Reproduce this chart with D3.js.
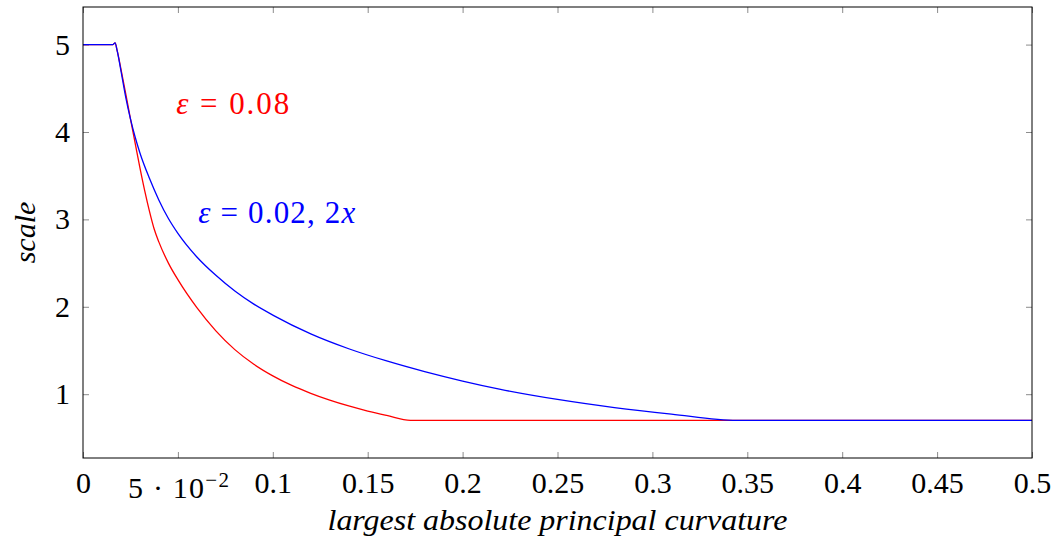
<!DOCTYPE html>
<html>
<head>
<meta charset="utf-8">
<script src="https://cdn.jsdelivr.net/npm/d3@7"></script>
<style>
  body { margin: 0; background: #fff; }
  text { font-family: "Liberation Serif", "DejaVu Serif", serif; }
</style>
</head>
<body>
<div id="chart"></div>
<script>
// data
const xTicks = [0, 0.05, 0.1, 0.15, 0.2, 0.25, 0.3, 0.35, 0.4, 0.45, 0.5];
const yTicks = [1, 2, 3, 4, 5];

// eps = 0.08
const redX = [0, 0.0158, 0.0169, 0.018, 0.02, 0.0225, 0.025, 0.0275, 0.03, 0.0325, 0.035,
  0.0375, 0.04, 0.045, 0.05, 0.06, 0.07, 0.08, 0.09, 0.10, 0.11, 0.12, 0.13, 0.14,
  0.15, 0.16, 0.1725, 0.5];
const redY = [5, 5, 5.02, 4.93, 4.72, 4.44, 4.15, 3.87, 3.59, 3.33, 3.095,
  2.89, 2.74, 2.50, 2.31, 1.99, 1.725, 1.51, 1.343, 1.21, 1.10, 1.01, 0.932, 0.865,
  0.807, 0.757, 0.70, 0.70];

// eps = 0.02, 2x
const blueX = [0, 0.0158, 0.0169, 0.018, 0.02, 0.0225, 0.025, 0.0275, 0.03, 0.035, 0.04,
  0.045, 0.05, 0.06, 0.07, 0.08, 0.09, 0.10, 0.12, 0.14, 0.16, 0.18, 0.20, 0.22,
  0.25, 0.28, 0.31, 0.3446, 0.5];
const blueY = [5, 5, 5.02, 4.93, 4.70, 4.40, 4.15, 3.94, 3.76, 3.47, 3.22,
  3.01, 2.84, 2.57, 2.36, 2.18, 2.03, 1.905, 1.69, 1.52, 1.38, 1.258, 1.15, 1.055,
  0.94, 0.847, 0.772, 0.70, 0.70];

const width = 1058, height = 544;
const margin = {top: 7, right: 26, bottom: 86, left: 83};
const iw = width - margin.left - margin.right;
const ih = height - margin.top - margin.bottom;

const svg = d3.select('#chart').append('svg')
  .attr('width', width)
  .attr('height', height);

const g = svg.append('g')
  .attr('transform', `translate(${margin.left},${margin.top})`);

const x = d3.scaleLinear().domain([0, 0.5]).range([0, iw]);
const y = d3.scaleLinear().domain([0.27, 5.43]).range([ih, 0]);

const tickColor = '#8c8c8c';

// bottom axis with labels
const xAxis = g.append('g')
  .attr('transform', `translate(0,${ih})`)
  .call(d3.axisBottom(x).tickValues(xTicks).tickSizeInner(-6).tickSizeOuter(0).tickPadding(14)
    .tickFormat(d => d === 0 ? '0' : d === 0.05 ? '' : String(+d.toFixed(2))));
xAxis.select('.domain').remove();
xAxis.selectAll('line').attr('stroke', tickColor);
xAxis.selectAll('text').attr('font-size', 30).attr('fill', '#000');
xAxis.selectAll('.tick').filter(d => d === 0.05).select('text')
  .attr('dy', '0.71em')
  .attr('transform', 'translate(0,5)')
  .attr('textLength', 101)
  .attr('lengthAdjust', 'spacing')
  .each(function() {
    const t = d3.select(this);
    t.append('tspan').text('5 \u00b7 10');
    t.append('tspan').attr('font-size', 21).attr('dy', '-0.55em').text('\u22122');
  });

// top axis, ticks only
const xTop = g.append('g')
  .call(d3.axisTop(x).tickValues(xTicks).tickSizeInner(-6).tickSizeOuter(0).tickFormat(''));
xTop.select('.domain').remove();
xTop.selectAll('line').attr('stroke', tickColor);

// left axis with labels
const yAxis = g.append('g')
  .call(d3.axisLeft(y).tickValues(yTicks).tickSizeInner(-6).tickSizeOuter(0).tickPadding(13)
    .tickFormat(d3.format('d')));
yAxis.select('.domain').remove();
yAxis.selectAll('line').attr('stroke', tickColor);
yAxis.selectAll('text').attr('font-size', 30).attr('fill', '#000');

// right axis, ticks only
const yRight = g.append('g')
  .attr('transform', `translate(${iw},0)`)
  .call(d3.axisRight(y).tickValues(yTicks).tickSizeInner(-6).tickSizeOuter(0).tickFormat(''));
yRight.select('.domain').remove();
yRight.selectAll('line').attr('stroke', tickColor);

// curves
const line = d3.line()
  .x(d => x(d[0]))
  .y(d => y(d[1]))
  .curve(d3.curveMonotoneX);

const redData = d3.zip(redX, redY);
const blueData = d3.zip(blueX, blueY);

g.append('path').datum(redData)
  .attr('d', line).attr('fill', 'none').attr('stroke', '#ff0000').attr('stroke-width', 1.3);
g.append('path').datum(blueData)
  .attr('d', line).attr('fill', 'none').attr('stroke', '#0000ff').attr('stroke-width', 1.3);

// frame
g.append('rect')
  .attr('width', iw).attr('height', ih)
  .attr('fill', 'none').attr('stroke', '#000').attr('stroke-width', 1);

// annotations
const redLabel = g.append('text')
  .attr('x', x(0.0491)).attr('y', y(4.21))
  .attr('font-size', 31).attr('fill', '#ff0000')
  .attr('textLength', 113).attr('lengthAdjust', 'spacing');
redLabel.append('tspan').attr('font-style', 'italic').text('\u03b5');
redLabel.append('tspan').text(' = 0.08');

const blueLabel = g.append('text')
  .attr('x', x(0.0607)).attr('y', y(2.955))
  .attr('font-size', 31).attr('fill', '#0000ff')
  .attr('textLength', 157).attr('lengthAdjust', 'spacing');
blueLabel.append('tspan').attr('font-style', 'italic').text('\u03b5');
blueLabel.append('tspan').text(' = 0.02, 2');
blueLabel.append('tspan').attr('font-style', 'italic').text('x');

// axis titles
svg.append('text')
  .attr('x', margin.left + iw / 2).attr('y', 530)
  .attr('text-anchor', 'middle')
  .attr('font-size', 30).attr('font-style', 'italic')
  .attr('textLength', 460).attr('lengthAdjust', 'spacingAndGlyphs')
  .text('largest absolute principal curvature');

svg.append('text')
  .attr('transform', `translate(35,${margin.top + ih / 2}) rotate(-90)`)
  .attr('text-anchor', 'middle')
  .attr('font-size', 30).attr('font-style', 'italic')
  .text('scale');
</script>
</body>
</html>
